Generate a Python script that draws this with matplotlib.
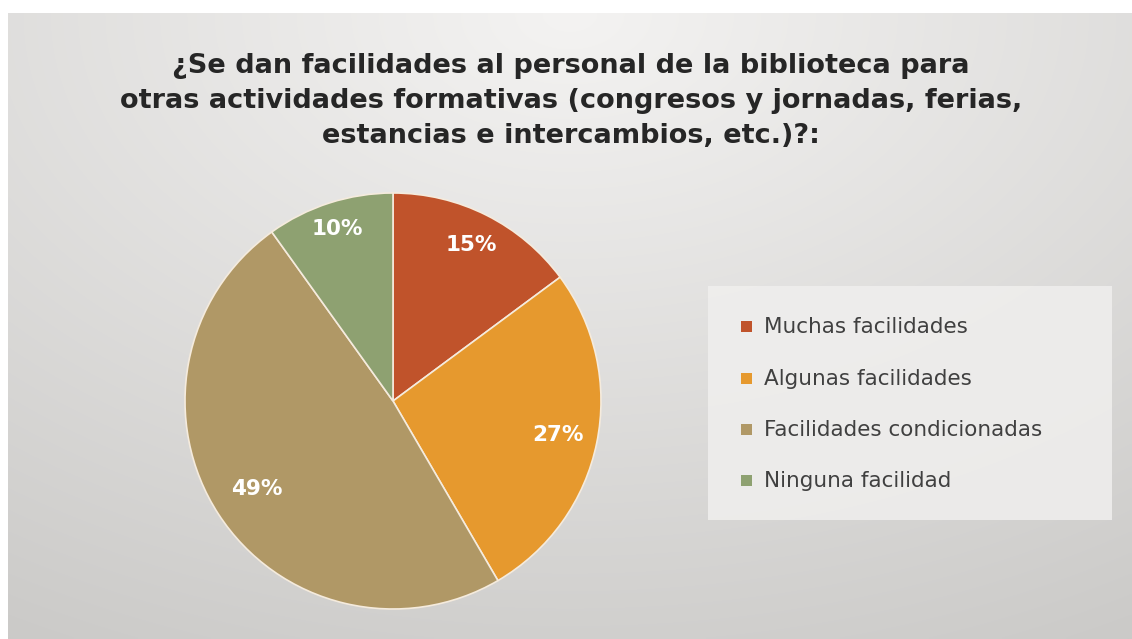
import matplotlib.pyplot as plt
import numpy as np
from matplotlib.patches import Rectangle

# --- data
categories = ['Muchas facilidades', 'Algunas facilidades', 'Facilidades condicionadas', 'Ninguna facilidad']
values = [15, 27, 49, 10]
pct_labels = ['15%', '27%', '49%', '10%']
colors = ['#C0532B', '#E6992E', '#B09866', '#8EA171']
title = ('¿Se dan facilidades al personal de la biblioteca para\n'
         'otras actividades formativas (congresos y jornadas, ferias,\n'
         'estancias e intercambios, etc.)?:')

W, H = 1132, 639
fig = plt.figure(figsize=(W / 100, H / 100), dpi=100)
fig.patch.set_facecolor('white')

#--- slide background (gradient)
bg = fig.add_axes([8 / W, 0, 1 - 8 / W, 1 - 13 / H])
ny, nx = 200, 300
yy, xx = np.mgrid[0:1:ny * 1j, 0:1:nx * 1j]
d = np.sqrt(((xx - 0.5) / 1.0) ** 2 + (yy / 1.15) ** 2)
d = np.clip(d / 1.0, 0, 1)
top = np.array([0xF4, 0xF3, 0xF2]) / 255
bot = np.array([0xCB, 0xCA, 0xC8]) / 255
img = top[None, None, :] * (1 - d[..., None]) + bot[None, None, :] * d[..., None]
bg.imshow(img, aspect='auto', extent=[0, 1, 1, 0], interpolation='bilinear')
bg.set_xlim(0, 1)
bg.set_ylim(1, 0)
bg.axis('off')

#--- title
fig.text(571 / W, 1 - 101 / H, title, ha='center', va='center', fontsize=19.5,
         fontweight='bold', color='#262626', family='DejaVu Sans', linespacing=1.45)

#--- pie
cx, cy, r = 393, 401, 208
ax = fig.add_axes([(cx - r) / W, 1 - (cy + r) / H, 2 * r / W, 2 * r / H])
wedges, _ = ax.pie(values, colors=colors, startangle=90, counterclock=False,
                   wedgeprops=dict(edgecolor='#F5EBDD', linewidth=1.2))
dist = [0.84, 0.81, 0.78, 0.87]
for w, lab, k in zip(wedges, pct_labels, dist):
    ang = np.deg2rad((w.theta1 + w.theta2) / 2)
    ax.text(k * np.cos(ang), k * np.sin(ang), lab, ha='center', va='center',
            fontsize=15.5, fontweight='bold', color='white', family='DejaVu Sans')
ax.set_xlim(-1, 1)
ax.set_ylim(-1, 1)
ax.set_aspect('equal')

#--- legend box
fig.patches.append(Rectangle((708 / W, 1 - 520 / H), 404 / W, 234 / H,
                             transform=fig.transFigure, facecolor='#F0EFEE',
                             edgecolor='none', alpha=0.85, zorder=1))
leg_y = [327, 379, 430, 481]
for c, name, y in zip(colors, categories, leg_y):
    fig.patches.append(Rectangle((741 / W, 1 - (y + 5) / H), 11 / W, 11 / H,
                                 transform=fig.transFigure, facecolor=c,
                                 edgecolor='none', zorder=2))
    fig.text(764 / W, 1 - y / H, name, ha='left', va='center', fontsize=15.5,
             color='#404040', family='DejaVu Sans')

fig.savefig('out.png', dpi=100)
